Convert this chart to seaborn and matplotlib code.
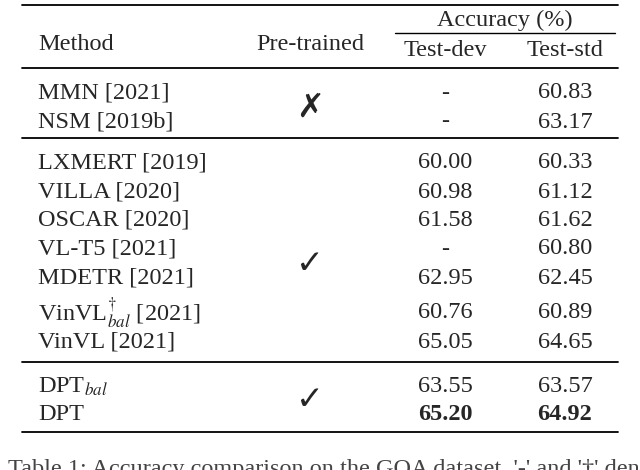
import matplotlib
matplotlib.use("Agg")
import matplotlib.pyplot as plt
import seaborn as sns

sns.set_theme(style="white")
plt.rcParams['font.family'] = ['Liberation Serif', 'DejaVu Sans']
plt.rcParams['mathtext.fontset'] = 'stix'

methods = ["MMN [2021]", "NSM [2019b]",
           "LXMERT [2019]", "VILLA [2020]", "OSCAR [2020]", "VL-T5 [2021]",
           "MDETR [2021]", r"VinVL$^{\dagger}_{bal}$ [2021]", "VinVL [2021]",
           r"DPT$_{bal}$", "DPT"]
test_dev = ["-", "-", "60.00", "60.98", "61.58", "-", "62.95", "60.76", "65.05", "63.55", "65.20"]
test_std = ["60.83", "63.17", "60.33", "61.12", "61.62", "60.80", "62.45", "60.89", "64.65", "63.57", "64.92"]
bold = [False]*9 + [False, True]
row_y = [93, 122, 163, 192, 220, 249, 278, 313, 342, 387, 414]
marks = [("✗", 107, 'bold'), ("✓", 263, 'normal'), ("✓", 400, 'normal')]
hlines = [5, 68, 138, 362, 432]

W, H = 640, 470
fig = plt.figure(figsize=(6.4, 4.7), dpi=100)
ax = fig.add_axes([0, 0, 1, 1])
ax.set_xlim(0, W); ax.set_ylim(H, 0); ax.axis('off')

fs = 17.5
for y in hlines:
    ax.plot([22, 618], [y, y], color='black', lw=1.3)
ax.plot([395, 615], [33, 33], color='black', lw=1.0)

ax.text(38, 44, "Method", fontsize=fs, va='center', ha='left')
ax.text(310, 44, "Pre-trained", fontsize=fs, va='center', ha='center')
ax.text(505, 20, "Accuracy (%)", fontsize=fs, va='center', ha='center')
ax.text(445, 50, "Test-dev", fontsize=fs, va='center', ha='center')
ax.text(565, 50, "Test-std", fontsize=fs, va='center', ha='center')

for m, d, s, b, y in zip(methods, test_dev, test_std, bold, row_y):
    w = 'bold' if b else 'normal'
    ax.text(38, y, m, fontsize=fs, va='center', ha='left')
    ax.text(445, y, d, fontsize=fs, va='center', ha='center', fontweight=w)
    ax.text(565, y, s, fontsize=fs, va='center', ha='center', fontweight=w)

for sym, y, w in marks:
    ax.text(310, y, sym, fontsize=24, va='center', ha='center',
            family='DejaVu Sans', fontweight=w)

ax.text(8, 470, "Table 1: Accuracy comparison on the GQA dataset. '-' and '\u2020' denote",
        fontsize=fs, va='center', ha='left', color='#444444', clip_on=True)

fig.savefig("out.png", dpi=100)
